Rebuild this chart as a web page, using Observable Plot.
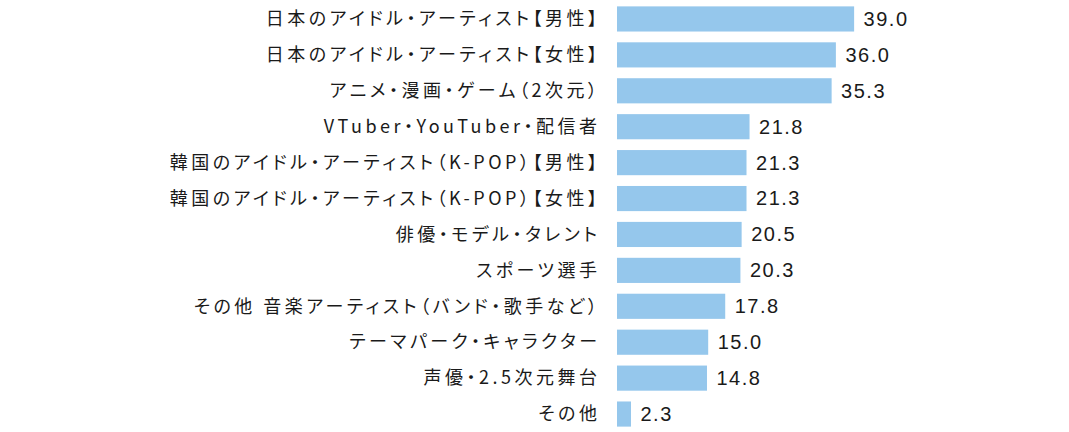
<!DOCTYPE html>
<html>
<head>
<meta charset="utf-8">
<script src="https://cdn.jsdelivr.net/npm/d3@7"></script>
<script src="https://cdn.jsdelivr.net/npm/@observablehq/plot@0.6"></script>
<style>
  html, body { margin: 0; padding: 0; background: #fff; }
  #chart svg { display: block; }
</style>
</head>
<body>
<div id="chart"></div>
<script>
const categories = [
  "日本のアイドル・アーティスト【男性】",
  "日本のアイドル・アーティスト【女性】",
  "アニメ・漫画・ゲーム（2次元）",
  "VTuber・YouTuber・配信者",
  "韓国のアイドル・アーティスト（K-POP）【男性】",
  "韓国のアイドル・アーティスト（K-POP）【女性】",
  "俳優・モデル・タレント",
  "スポーツ選手",
  "その他 音楽アーティスト（バンド・歌手など）",
  "テーマパーク・キャラクター",
  "声優・2.5次元舞台",
  "その他"
];
const values = [39.0, 36.0, 35.3, 21.8, 21.3, 21.3, 20.5, 20.3, 17.8, 15.0, 14.8, 2.3];

const data = categories.map((c, i) => ({category: c, value: values[i]}));

const chart = Plot.plot({
  width: 1069,
  height: 432,
  marginLeft: 617,
  marginRight: 148,
  marginTop: 1,
  marginBottom: 0,
  x: {domain: [0, 50], axis: null},
  y: {domain: categories, paddingInner: 0.3, paddingOuter: 0.15, round: false, axis: null},
  marks: [
    Plot.barX(data, {y: "category", x: "value", fill: "#95c7ec"}),
    Plot.text(data, {
      y: "category", x: 0, text: "category", textAnchor: "end", dx: -17,
      fill: "#1a1a1a", fontSize: 18,
      fontFamily: "'Noto Sans CJK JP', sans-serif"
    }),
    Plot.text(data, {
      y: "category", x: "value", text: d => d.value.toFixed(1), textAnchor: "start", dx: 9,
      fill: "#1a1a1a", fontSize: 20,
      fontFamily: "'Liberation Sans', Arial, sans-serif"
    })
  ]
});
const groups = chart.querySelectorAll("g[aria-label='text']");
if (groups[0]) groups[0].setAttribute("style", "letter-spacing:3.5px;font-feature-settings:'palt' 1");
if (groups[1]) groups[1].setAttribute("style", "letter-spacing:1.5px");
document.getElementById("chart").appendChild(chart);
</script>
</body>
</html>
